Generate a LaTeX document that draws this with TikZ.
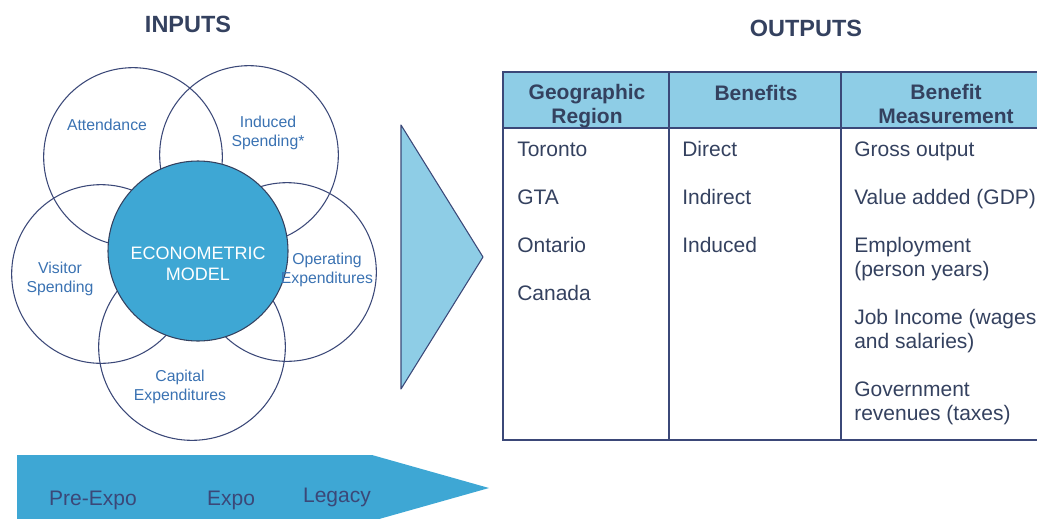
\documentclass[tikz,border=0pt]{standalone}
\usepackage{fontspec}
\setmainfont{Liberation Sans}
\usetikzlibrary{positioning,calc}
\definecolor{emNavy}{HTML}{3B4878}
\definecolor{emInk}{HTML}{34415F}
\definecolor{emLabel}{HTML}{3A72B2}
\definecolor{emCore}{HTML}{3EA7D4}
\definecolor{emPale}{HTML}{8ECDE6}
\tikzset{
  ring/.style={draw=emNavy, line width=0.8pt, circle, inner sep=0pt, minimum size=134pt},
  core/.style={ring, fill=emCore, draw=emInk, minimum size=135pt},
  ringtext/.style={font=\fontsize{11.85}{14.25}\selectfont, text=emLabel, align=center, anchor=base, inner sep=0pt},
  coretext/.style={font=\fontsize{13.5}{15.75}\selectfont, text=white, align=center, anchor=base, inner sep=0pt},
  title/.style={font=\fontsize{17.6}{20}\selectfont\bfseries, text=emInk, anchor=base, inner sep=0pt},
  headcell/.style={font=\fontsize{15.75}{18}\selectfont\bfseries, text=emInk, align=center, anchor=base, inner sep=0pt},
  cell/.style={font=\fontsize{15.75}{18}\selectfont, text=emInk, align=left, anchor=base west, inner sep=0pt},
  phase/.style={font=\fontsize{15.75}{18}\selectfont, text=emNavy, anchor=base, inner sep=0pt},
  grid/.style={draw=emNavy, line width=1.1pt},
  pointer/.style={fill=emPale, draw=emNavy, line width=0.8pt, line join=round}
}
\begin{document}
\begin{tikzpicture}[x=0.75pt, y=-0.75pt]
  \useasboundingbox (0,0) rectangle (1037,518);
  \clip (0,0) rectangle (1037,518);
  % inputs: five overlapping rings round the model
  % (multi-line labels sit on the baseline of their last line)
  \node[title] (intitle) at (188,32.4) {INPUTS};
  \node[ring] (attend) at (133,157) {};
  \node[ring] (induced) at (249,155) {};
  \node[ring] (visitor) at (101,274) {};
  \node[ring] (operate) at (287,272) {};
  \node[ring, minimum size=140pt] (capital) at (192,347) {};
  \node[core] (model) at (198,251) {};
  \node[ringtext] (attendtx) at (107,130.7) {Attendance};
  \node[ringtext] (inducedtx) at (268,146.7) {Induced\\Spending*};
  \node[ringtext] (visitortx) at (60,292.7) {Visitor\\Spending};
  \node[ringtext] (operatetx) at (327,283.7) {Operating\\Expenditures};
  \node[ringtext] (capitaltx) at (180,400.7) {Capital\\Expenditures};
  \node[coretext] (modeltx) at (198,280.4) {ECONOMETRIC\\MODEL};
  % big pointer between the halves
  \draw[pointer] (401,125) -- (483,257) -- (401,389) -- cycle;
  % outputs table
  \node[title] (outtitle) at (806,36.4) {OUTPUTS};
  \fill[emPale] (503,72) rectangle (1060,128);
  \draw[grid] (1060,72) -- (503,72) -- (503,440) -- (1060,440);
  \draw[grid] (503,128) -- (1060,128);
  \draw[grid] (669,72) -- (669,440);
  \draw[grid] (841,72) -- (841,440);
  \node[headcell] (hregion) at (587,123.5) {Geographic\\Region};
  \node[headcell] (hbenefit) at (756,100.5) {Benefits};
  \node[headcell] (hmeasure) at (946,123.5) {Benefit\\Measurement};
  \node[cell] (toronto) at (517,156) {Toronto};
  \node[cell] (gta) at (517,204) {GTA};
  \node[cell] (ontario) at (517,252) {Ontario};
  \node[cell] (canada) at (517,300) {Canada};
  \node[cell] (direct) at (682,156) {Direct};
  \node[cell] (indirect) at (682,204) {Indirect};
  \node[cell] (inducedb) at (682,252) {Induced};
  \node[cell] (gross) at (854,156) {Gross output};
  \node[cell] (gdp) at (854,204) {Value added (GDP)};
  \node[cell] (employ) at (854,276) {Employment\\(person years)};
  \node[cell] (income) at (854,348) {Job Income (wages\\and salaries)};
  \node[cell] (govt) at (854,420) {Government\\revenues (taxes)};
  % timeline arrow along the bottom
  \fill[emCore] (17,455) -- (372,455) -- (489,488) -- (372,521) -- (17,521) -- cycle;
  \node[phase] (pre) at (93,505) {Pre-Expo};
  \node[phase] (expo) at (231,505) {Expo};
  \node[phase] (legacy) at (337,502) {Legacy};
\end{tikzpicture}
\end{document}
